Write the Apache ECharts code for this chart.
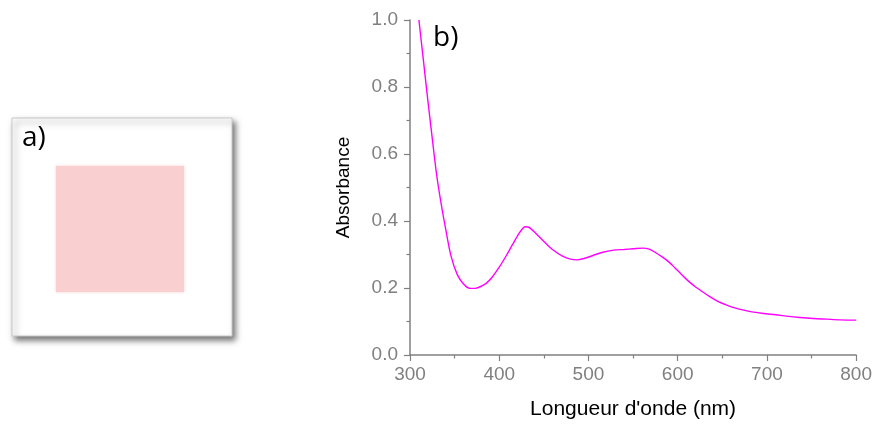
<!DOCTYPE html>
<html>
<head>
<meta charset="utf-8">
<script src="https://cdn.jsdelivr.net/npm/echarts@6/dist/echarts.min.js"></script>
<style>html,body{margin:0;padding:0;background:#fff}#c{width:875px;height:425px}</style>
</head>
<body>
<div id="c"></div>
<script>
const wavelengths = [310,315,320,325,330,335,340,346,353,360,367,373,378,385,392,400,408,415,422,426,429,432,435,440,449,460,471,480,487,495,505,515,528,540,550,561,568,575,583,590,597,603,609,614,620,625,636,645,655,665,674,685,696,710,722,737,752,767,782,800];
const absorbance = [1.00,0.88,0.76,0.645,0.535,0.45,0.376,0.295,0.24,0.212,0.199,0.199,0.203,0.213,0.232,0.262,0.297,0.33,0.362,0.377,0.383,0.382,0.378,0.366,0.342,0.314,0.295,0.286,0.284,0.288,0.297,0.306,0.313,0.315,0.317,0.319,0.316,0.306,0.292,0.278,0.26,0.244,0.228,0.216,0.203,0.194,0.174,0.16,0.149,0.14,0.134,0.128,0.124,0.12,0.116,0.112,0.109,0.107,0.105,0.104];
const xTitle = "Longueur d'onde (nm)";
const yTitle = "Absorbance";
const panelA = "a)";
const panelB = "b)";

const chart = echarts.init(document.getElementById('c'), null, {renderer: 'canvas'});
const grey = '#808080';
chart.setOption({
  animation: false,
  backgroundColor: '#fff',
  grid: {left: 410, right: 18, top: 20, bottom: 68},
  xAxis: {
    type: 'value', min: 300, max: 800, interval: 100,
    name: xTitle, nameLocation: 'middle', nameGap: 44,
    nameTextStyle: {color: '#000', fontSize: 21, fontFamily: 'Liberation Sans'},
    axisLine: {lineStyle: {color: grey, width: 1.5}},
    axisTick: {show: true, inside: false, length: 6, lineStyle: {color: grey, width: 1.2}},
    minorTick: {show: true, splitNumber: 2, length: 3.5, lineStyle: {color: grey, width: 1.2}},
    axisLabel: {color: grey, fontSize: 19, fontFamily: 'Liberation Sans', margin: 10},
    splitLine: {show: false}
  },
  yAxis: {
    type: 'value', min: 0, max: 1, interval: 0.2,
    name: yTitle, nameLocation: 'middle', nameGap: 57, nameRotate: 90,
    nameTextStyle: {color: '#000', fontSize: 19, fontFamily: 'Liberation Sans'},
    axisLine: {show: true, lineStyle: {color: grey, width: 1.5}},
    axisTick: {show: true, inside: false, length: 6, lineStyle: {color: grey, width: 1.2}},
    minorTick: {show: true, splitNumber: 2, length: 3.5, lineStyle: {color: grey, width: 1.2}},
    axisLabel: {color: grey, fontSize: 19, fontFamily: 'Liberation Sans', margin: 12,
      formatter: v => v.toFixed(1)},
    splitLine: {show: false}
  },
  series: [{
    type: 'line',
    data: wavelengths.map((w, i) => [w, absorbance[i]]),
    showSymbol: false,
    smooth: 0.3,
    lineStyle: {color: '#ff00ff', width: 1.4},
    itemStyle: {color: '#ff00ff'}
  }],
  graphic: [
    {type: 'rect', shape: {x: 12, y: 118, width: 220, height: 218},
      style: {fill: '#fff', stroke: '#c8c8c8', lineWidth: 1,
        shadowBlur: 6, shadowOffsetX: 3, shadowOffsetY: 4, shadowColor: 'rgba(0,0,0,0.55)'}},
    {type: 'rect', shape: {x: 56, y: 166, width: 128, height: 126},
      style: {fill: '#f9cfcf', shadowBlur: 3, shadowColor: '#f9cfcf'}},
    {type: 'text', left: 22, top: 124,
      style: {text: panelA, fill: '#000', fontSize: 28, fontFamily: 'Open Sans'}},
    {type: 'text', left: 433, top: 24,
      style: {text: panelB, fill: '#000', fontSize: 28, fontFamily: 'Open Sans'}}
  ]
});
</script>
</body>
</html>
